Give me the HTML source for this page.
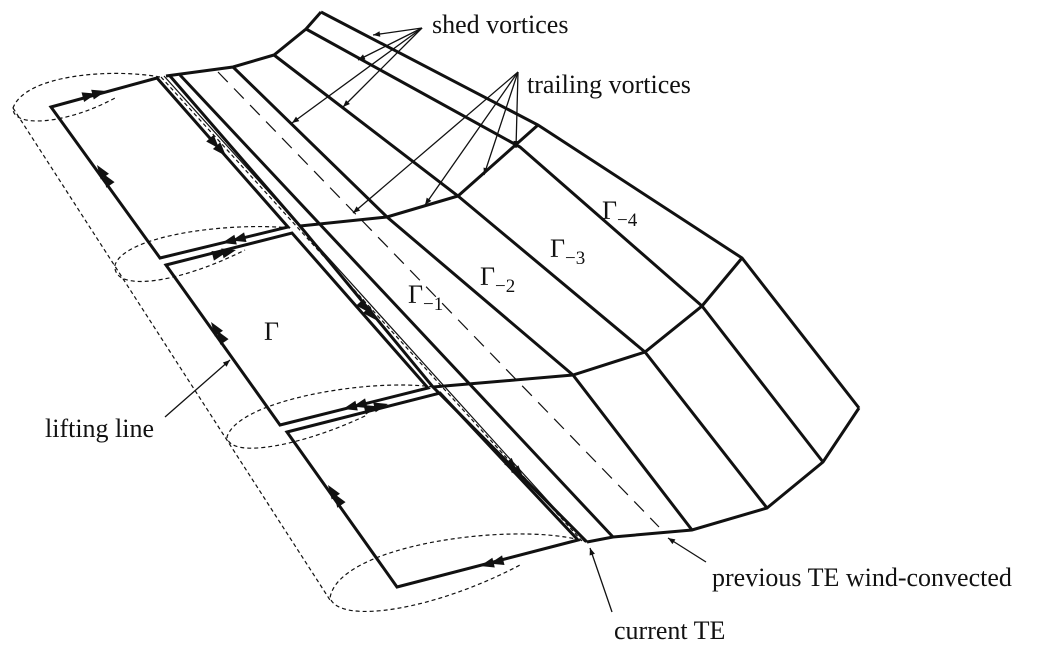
<!DOCTYPE html>
<html><head><meta charset="utf-8"><style>
html,body{margin:0;padding:0;background:#fff;}
svg{display:block;}
text{font-family:"Liberation Serif",serif;fill:#111;}
</style></head><body>
<svg width="1042" height="650" viewBox="0 0 1042 650" xmlns="http://www.w3.org/2000/svg">
<defs>
<marker id="a" viewBox="0 0 10 10" refX="10" refY="5" markerWidth="11" markerHeight="7" orient="auto" markerUnits="userSpaceOnUse"><path d="M0,1 L10,5 L0,9 z" fill="#111"/></marker>
<path id="h" d="M0,0 L-14,-5 L-14,5z M-10,0 L-24,-5 L-24,5z"/>
</defs>
<g fill="none" stroke="#111" stroke-linejoin="miter">
<g stroke-width="1.2" stroke-dasharray="4,3">
<path d="M160,77 C110,68 25,75 13,108 C12,128 65,125 115,98"/>
<path d="M290,228 C230,222 125,235 115,265 C112,292 175,285 245,250"/>
<path d="M433,387 C370,378 238,400 227,437 C230,460 305,445 367,415"/>
<path d="M580,540 C510,522 338,545 330,598 C340,625 435,610 520,565"/>
<path d="M13,108 L330,600"/>
<path d="M161,77 L582,541"/>
</g>
<path d="M218,72 L659,527" stroke-width="1.2" stroke-dasharray="14,9"/>
<path d="M164,76 L585,542" stroke-width="1.2"/>
<g stroke-width="3">
<polyline points="166,76 233,67 274,55 306,29 321,12"/>
<polyline points="300,226 387,217 458,196 538,125"/>
<polyline points="433,387 573,375 645,352 702,306 742,258"/>
<polyline points="587,542 613,537 692,530 767,508 823,462 859,408"/>
<polyline points="321,12 538,125 742,258 859,408"/>
<polyline points="170,76 300,226 433,387 587,542"/>
<polyline points="180,75 613,537"/>
<polyline points="233,67 387,217 573,375 692,530"/>
<polyline points="274,55 458,196 645,352 767,508"/>
<polyline points="306,29 520,147 702,306 823,462"/>
<polygon points="51,107 157,78 288,227 160,258"/>
<polygon points="166,265 292,233 428,388 280,425"/>
<polygon points="287,432 440,393 578,540 397,587"/>
</g>
<g stroke-width="1.3" marker-end="url(#a)">
<line x1="422" y1="28" x2="373" y2="35"/>
<line x1="422" y1="28" x2="358" y2="60"/>
<line x1="422" y1="28" x2="343" y2="107"/>
<line x1="422" y1="28" x2="292" y2="123"/>
<line x1="518" y1="72" x2="353" y2="213"/>
<line x1="518" y1="72" x2="425" y2="205"/>
<line x1="518" y1="72" x2="484" y2="175"/>
<line x1="518" y1="72" x2="516" y2="148"/>
<line x1="165" y1="417" x2="230" y2="360"/>
<line x1="612" y1="612" x2="590" y2="548"/>
<line x1="706" y1="562" x2="668" y2="538"/>
</g>
</g>
<g fill="#111">
<use href="#h" transform="translate(106,91) rotate(-15)"/>
<use href="#h" transform="translate(97,165) rotate(-124)"/>
<use href="#h" transform="translate(226,156) rotate(48)"/>
<use href="#h" transform="translate(222,243) rotate(166)"/>
<use href="#h" transform="translate(236,250) rotate(-14)"/>
<use href="#h" transform="translate(211,322) rotate(-124)"/>
<use href="#h" transform="translate(376,320) rotate(48)"/>
<use href="#h" transform="translate(343,409) rotate(166)"/>
<use href="#h" transform="translate(388,404) rotate(-14)"/>
<use href="#h" transform="translate(328,485) rotate(-124)"/>
<use href="#h" transform="translate(524,479) rotate(48)"/>
<use href="#h" transform="translate(480,566) rotate(166)"/>
</g>
<g font-size="26">
<text x="432" y="33">shed vortices</text>
<text x="527" y="93">trailing vortices</text>
<text x="45" y="437">lifting line</text>
<text x="614" y="639">current TE</text>
<text x="712" y="586">previous TE wind-convected</text>
<text x="264" y="340">Γ</text>
<text x="408" y="303">Γ<tspan font-size="19" dy="7">−1</tspan></text>
<text x="480" y="285">Γ<tspan font-size="19" dy="7">−2</tspan></text>
<text x="550" y="257">Γ<tspan font-size="19" dy="7">−3</tspan></text>
<text x="602" y="219">Γ<tspan font-size="19" dy="7">−4</tspan></text>
</g>
</svg>
</body></html>
